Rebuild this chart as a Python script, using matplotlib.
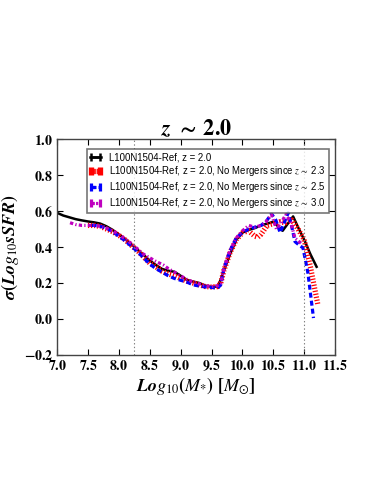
import numpy as np
import matplotlib
matplotlib.use('Agg')
import matplotlib.pyplot as plt
from matplotlib.ticker import FuncFormatter, MultipleLocator

plt.rcParams['mathtext.fontset'] = 'custom'
plt.rcParams['mathtext.rm'] = 'STIXGeneral'
plt.rcParams['mathtext.it'] = 'STIXGeneral:italic'
plt.rcParams['mathtext.bf'] = 'STIXGeneral:bold'
plt.rcParams['mathtext.bfit'] = 'STIXGeneral:italic:bold'
plt.rcParams['font.family'] = ['Liberation Sans', 'DejaVu Sans']
plt.rcParams['lines.scale_dashes'] = False

# black: L100N1504-Ref, z = 2.0
x_ref = [7.0, 7.1, 7.2, 7.3, 7.4, 7.5, 7.6, 7.7, 7.8, 7.9, 8.0, 8.1, 8.2, 8.3,
         8.4, 8.5, 8.6, 8.7, 8.8, 8.9, 9.0, 9.1, 9.2, 9.3, 9.4, 9.5, 9.6, 9.65,
         9.7, 9.8, 9.9, 10.0, 10.1, 10.2, 10.3, 10.4, 10.5, 10.65, 10.82, 10.9,
         11.0, 11.1, 11.2]
y_ref = [0.59, 0.575, 0.565, 0.555, 0.548, 0.542, 0.537, 0.53, 0.515, 0.495,
         0.47, 0.445, 0.415, 0.385, 0.356, 0.325, 0.30, 0.278, 0.268, 0.262,
         0.24, 0.217, 0.208, 0.20, 0.185, 0.178, 0.18, 0.22, 0.27, 0.36, 0.44,
         0.48, 0.495, 0.505, 0.52, 0.53, 0.54, 0.49, 0.57, 0.51, 0.44, 0.36,
         0.29]

# red: no mergers since z ~ 2.3
x_23 = [7.5, 7.6, 7.7, 7.8, 7.9, 8.0, 8.1, 8.2, 8.3, 8.4, 8.5, 8.6, 8.7, 8.8,
        8.9, 9.0, 9.1, 9.2, 9.3, 9.4, 9.5, 9.6, 9.65, 9.7, 9.8, 9.9, 10.0,
        10.1, 10.2, 10.25, 10.3, 10.4, 10.5, 10.6, 10.7, 10.8, 10.9, 11.0,
        11.1, 11.22]
y_23 = [0.52, 0.52, 0.515, 0.50, 0.485, 0.465, 0.44, 0.41, 0.38, 0.345,
        0.31, 0.29, 0.265, 0.25, 0.24, 0.225, 0.21, 0.20, 0.19, 0.18, 0.178,
        0.18, 0.20, 0.27, 0.37, 0.44, 0.48, 0.49, 0.46, 0.455, 0.47, 0.52,
        0.53, 0.54, 0.535, 0.55, 0.50, 0.44, 0.29, 0.08]

# blue: no mergers since z ~ 2.5
x_25 = [7.56, 7.6, 7.7, 7.8, 7.9, 8.0, 8.1, 8.2, 8.3, 8.4, 8.5, 8.6, 8.7, 8.8,
        8.9, 9.0, 9.1, 9.2, 9.3, 9.4, 9.5, 9.6, 9.65, 9.7, 9.8, 9.9, 10.0,
        10.1, 10.2, 10.3, 10.38, 10.47, 10.54, 10.61, 10.67, 10.74, 10.8,
        10.85, 10.92, 10.98, 11.06, 11.15]
y_25 = [0.52, 0.52, 0.515, 0.505, 0.485, 0.46, 0.435, 0.405, 0.375, 0.34,
        0.305, 0.28, 0.26, 0.24, 0.225, 0.215, 0.205, 0.19, 0.183, 0.178,
        0.175, 0.172, 0.19, 0.28, 0.38, 0.45, 0.48, 0.50, 0.51, 0.52, 0.54,
        0.585, 0.55, 0.48, 0.53, 0.59, 0.51, 0.43, 0.41, 0.395, 0.255, 0.005]

# magenta: no mergers since z ~ 3.0
x_30 = [7.21, 7.3, 7.4, 7.5, 7.6, 7.7, 7.8, 7.9, 8.0, 8.1, 8.2, 8.3, 8.4, 8.5,
        8.6, 8.72, 8.8, 8.9, 9.0, 9.1, 9.2, 9.3, 9.4, 9.5, 9.6, 9.65, 9.7,
        9.8, 9.9, 10.0, 10.1, 10.2, 10.3, 10.38, 10.47, 10.55, 10.62, 10.7,
        10.78, 10.85, 10.95]
y_30 = [0.535, 0.525, 0.52, 0.52, 0.52, 0.515, 0.505, 0.49, 0.47, 0.445,
        0.42, 0.39, 0.36, 0.34, 0.32, 0.30, 0.28, 0.26, 0.24, 0.22, 0.205,
        0.195, 0.185, 0.18, 0.185, 0.20, 0.28, 0.38, 0.45, 0.49, 0.52, 0.51,
        0.52, 0.54, 0.58, 0.50, 0.53, 0.58, 0.54, 0.45, 0.42]

labels = ['L100N1504-Ref, z = 2.0',
          r'L100N1504-Ref, z = 2.0, No Mergers since $z \sim$ 2.3',
          r'L100N1504-Ref, z = 2.0, No Mergers since $z \sim$ 2.5',
          r'L100N1504-Ref, z = 2.0, No Mergers since $z \sim$ 3.0']

vlines = [8.25, 11.0]

fig = plt.figure(figsize=(3.83, 4.95), dpi=100)
ax = fig.add_axes([0.149, 0.283, 0.726, 0.436])

series = [(x_ref, y_ref, 'k', '-', 1.8),
          (x_23, y_23, 'r', (0, (0.9, 1.3)), 3.8),
          (x_25, y_25, 'b', (0, (3.6, 2.2)), 2.3),
          (x_30, y_30, 'm', (0, (2.4, 1.6, 0.9, 1.6)), 2.3)]

for (xs, ys, c, ls, lw), lab in zip(series, labels):
    ax.plot(xs, ys, color=c, ls=ls, lw=lw)
    # legend proxy drawn as errorbar so the handle gets caps
    eb = ax.errorbar([np.nan], [np.nan], xerr=[1.0], color=c, ls=ls, lw=lw,
                     elinewidth=lw, capsize=3, capthick=lw, label=lab)
    eb[-1][0].set_linestyle(ls)

for v in vlines:
    ax.axvline(v, color='gray', ls=':', lw=0.8)

ax.set_xlim(7.0, 11.5)
ax.set_ylim(-0.2, 1.0)
ax.xaxis.set_major_locator(MultipleLocator(0.5))
ax.yaxis.set_major_locator(MultipleLocator(0.2))
fmt = FuncFormatter(lambda v, p: r'$\mathbf{%.1f}$' % v)
ax.xaxis.set_major_formatter(fmt)
ax.yaxis.set_major_formatter(fmt)
ax.tick_params(direction='in', top=True, right=True, length=4, labelsize=10,
               pad=3)
for s in ax.spines.values():
    s.set_color('#444444')
    s.set_linewidth(1.0)

ax.set_title(r'$\boldsymbol{z\ \sim\ 2.0}$', fontsize=16, pad=3)
ax.set_xlabel(r'$\boldsymbol{Log_{10}(M_{*})\ [M_{\odot}]}$', fontsize=13,
              labelpad=1)
ax.set_ylabel(r'$\boldsymbol{\sigma(Log_{10}sSFR)}$', fontsize=13, labelpad=2)

leg = ax.legend(loc='upper right', fontsize=6.9, handlelength=1.1,
                borderpad=0.3, labelspacing=0.22, handletextpad=0.9,
                fancybox=False, bbox_to_anchor=(0.995, 0.975))
leg.get_frame().set_edgecolor('#555555')
leg.get_frame().set_linewidth(1.2)

fig.savefig('out.png', dpi=100)
